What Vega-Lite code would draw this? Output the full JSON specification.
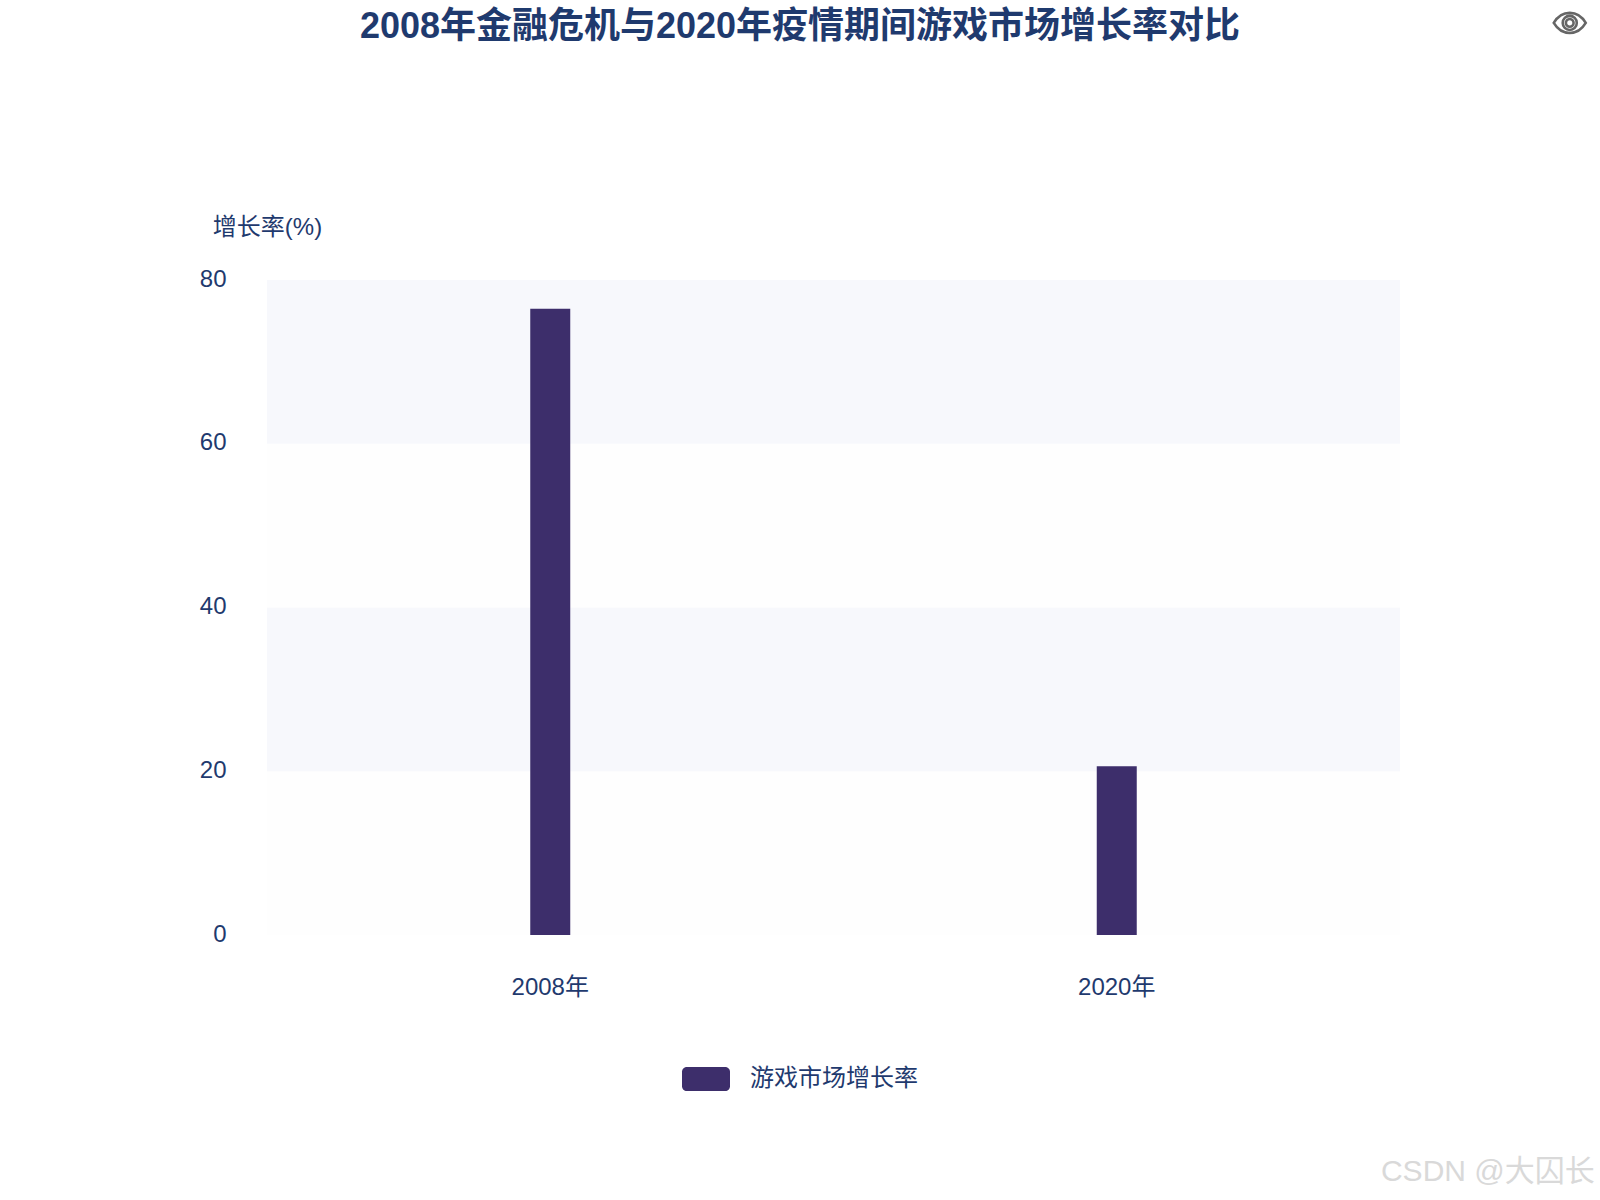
{
"$schema":"https://vega.github.io/schema/vega-lite/v6.json",
"width":1133,"height":655,
"autosize":{"type":"none"},
"padding":{"left":267,"top":280,"right":200,"bottom":265},
"background":"#ffffff",
"title":{"text":"2008年金融危机与2020年疫情期间游戏市场增长率对比","font":"Liberation Sans, Noto Sans CJK SC","fontSize":36,"fontWeight":"bold","color":"#1f3a6e","anchor":"middle","frame":"group","dx":-33.5,"offset":0,"dy":74,"baseline":"bottom"},
"config":{"view":{"stroke":null},"font":"Liberation Sans, Noto Sans CJK SC"},
"datasets":{
"bands":[{"from":0,"to":20,"shade":"a"},{"from":20,"to":40,"shade":"b"},{"from":40,"to":60,"shade":"a"},{"from":60,"to":80,"shade":"b"}],
"rates":[{"year":"2008年","rate":76.5,"series":"游戏市场增长率"},{"year":"2020年","rate":20.6,"series":"游戏市场增长率"}]
},
"resolve":{"scale":{"color":"independent"}},
"layer":[
{"data":{"name":"bands"},"mark":{"type":"rect"},
"encoding":{
"y":{"field":"from","type":"quantitative","scale":{"domain":[0,80],"nice":false},
"axis":{"title":"增长率(%)","titleFontSize":24,"titleFontWeight":"normal","titleColor":"#1f3a6e","titleAngle":0,"titleAlign":"center","titleBaseline":"middle","titleX":0,"titleY":-53,
"labelFontSize":24,"labelColor":"#1f3a6e","labelPadding":41,"labelOffset":-1,"values":[0,20,40,60,80],"domain":false,"ticks":false,"grid":false,"labelOverlap":false}},
"y2":{"field":"to"},
"color":{"field":"shade","type":"nominal","scale":{"domain":["a","b"],"range":["#fefefe","#f7f8fc"]},"legend":null}
}},
{"data":{"name":"rates"},"mark":{"type":"bar","width":40},
"encoding":{
"x":{"field":"year","type":"nominal","scale":{"paddingInner":0,"paddingOuter":0},
"axis":{"title":null,"labelAngle":0,"labelFontSize":24,"labelColor":"#1f3a6e","labelPadding":40,"domain":false,"ticks":false,"grid":false}},
"y":{"field":"rate","type":"quantitative"},
"color":{"field":"series","type":"nominal","scale":{"range":["#3d2e6b"]},
"legend":{"title":null,"orient":"none","legendX":415,"legendY":775,"symbolType":"M-0.8,-0.5H0.8A0.2,0.2,0,0,1,1,-0.3V0.3A0.2,0.2,0,0,1,0.8,0.5H-0.8A0.2,0.2,0,0,1,-1,0.3V-0.3A0.2,0.2,0,0,1,-0.8,-0.5Z","symbolSize":2304,"symbolStrokeWidth":0,"symbolOpacity":1,"labelFontSize":24,"labelColor":"#1f3a6e","labelOffset":20,"labelLimit":400}}
}},
{"data":{"values":[{"year":"2020年","rate":111.4}]},
"mark":{"type":"point","xOffset":453,"filled":false,"stroke":"#666666","strokeWidth":2.6,"size":1024,"opacity":1,"shape":"M-1,0C-0.5,-0.84,0.5,-0.84,1,0C0.5,0.84,-0.5,0.84,-1,0Z M0.44,0A0.44,0.44,0,1,1,-0.44,0A0.44,0.44,0,1,1,0.44,0Z M0.24,0A0.24,0.24,0,1,1,-0.24,0A0.24,0.24,0,1,1,0.24,0Z"},
"encoding":{"x":{"field":"year","type":"nominal"},"y":{"field":"rate","type":"quantitative"}}},
{"data":{"values":[{"year":"2020年","rate":-28.9,"note":"CSDN @大囚长"}]},
"mark":{"type":"text","dx":478,"align":"right","baseline":"middle","fontSize":30,"color":"#d9d9d9"},
"encoding":{"x":{"field":"year","type":"nominal"},"y":{"field":"rate","type":"quantitative"},"text":{"field":"note"}}}
]
}
